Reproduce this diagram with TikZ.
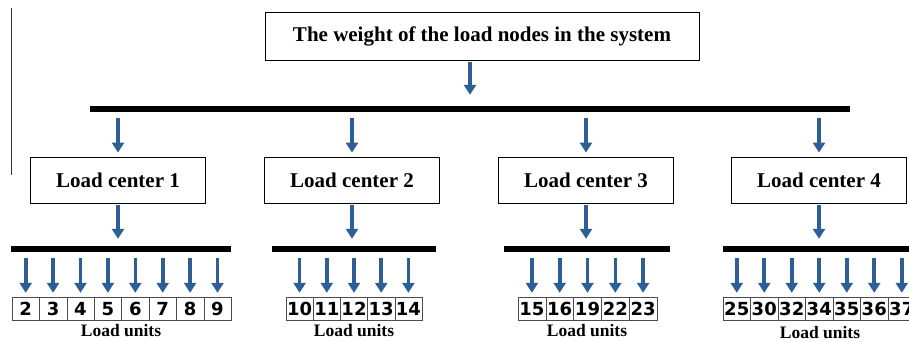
\documentclass[tikz,border=0pt]{standalone}
\usepackage{fontspec}
\setmainfont{Liberation Serif}
\newfontfamily\numfont{DejaVu Sans}
\usetikzlibrary{arrows.meta}
\definecolor{arrowBlue}{HTML}{2E5E96}

\begin{document}
\begin{tikzpicture}[x=1pt, y=-1pt,
    titlebox/.style={draw, thick, minimum width=434pt, minimum height=48pt,
        font=\bfseries\fontsize{21}{23}\selectfont},
    centerbox/.style={draw, thick, minimum width=175pt, minimum height=46pt,
        font=\bfseries\fontsize{21}{23}\selectfont},
    bus/.style={fill=black, inner sep=0pt, minimum height=6pt},
    unitbox/.style={draw=black!70, inner sep=0pt, minimum width=27.4pt,
        text height=18pt, text depth=5pt,
        font=\numfont\bfseries\fontsize{18}{18}\selectfont},
    unitlabel/.style={font=\bfseries\fontsize{17.5}{19}\selectfont},
    flow/.style={arrowBlue, line width=3.6pt, -{Triangle[width=12pt,length=10pt]}},
    ]
    \useasboundingbox (0,0) rectangle (909,342);
    \draw[black!80] (11,8) -- (11,175);

    % top level
    \node[titlebox] (title) at (482,36) {The weight of the load nodes in the system};
    \node[bus, minimum width=760pt] (bus) at (470,109) {};
    \draw[flow, shorten <=2pt, shorten >=11pt] (bus.north |- title.south) -- (bus.north);

    % load centers
    \node[centerbox] (lc1) at (118,180) {Load center 1};
    \node[centerbox] (lc2) at (352,180) {Load center 2};
    \node[centerbox] (lc3) at (586,180) {Load center 3};
    \node[centerbox] (lc4) at (819,180) {Load center 4};

    \node[bus, minimum width=220pt] (bus1) at (121,249) {};
    \node[bus, minimum width=164pt] (bus2) at (354,249) {};
    \node[bus, minimum width=166pt] (bus3) at (587,249) {};
    \node[bus, minimum width=190pt] (bus4) at (818,249) {};

    \foreach \k in {1,...,4} {
        \draw[flow, shorten <=6pt, shorten >=4pt] (lc\k.north |- bus.south) -- (lc\k.north);
        \draw[flow, shorten <=2pt, shorten >=7pt] (lc\k.south) -- (lc\k.south |- bus\k.north);
    }

    % load units
    \foreach \n [count=\i] in {2,3,4,5,6,7,8,9}
        \node[unitbox] (u\n) at ({12+27.4*(\i-0.5)},308.5) {\n};
    \foreach \n [count=\i] in {10,11,12,13,14}
        \node[unitbox, minimum width=27.2pt] (u\n) at ({286+27.2*(\i-0.5)},308.5) {\n};
    \foreach \n [count=\i] in {15,16,19,22,23}
        \node[unitbox, minimum width=27.8pt] (u\n) at ({518+27.8*(\i-0.5)},308.5) {\n};
    \foreach \n [count=\i] in {25,30,32,34,35,36,37}
        \node[unitbox, minimum width=27.5pt] (u\n) at ({723+27.5*(\i-0.5)},308.5) {\n};

    \foreach \n in {2,3,4,5,6,7,8,9}
        \draw[flow, shorten <=6pt, shorten >=4pt] (u\n.north |- bus1.south) -- (u\n.north);
    \foreach \n in {10,11,12,13,14}
        \draw[flow, shorten <=6pt, shorten >=4pt] (u\n.north |- bus2.south) -- (u\n.north);
    \foreach \n in {15,16,19,22,23}
        \draw[flow, shorten <=6pt, shorten >=4pt] (u\n.north |- bus3.south) -- (u\n.north);
    \foreach \n in {25,30,32,34,35,36,37}
        \draw[flow, shorten <=6pt, shorten >=4pt] (u\n.north |- bus4.south) -- (u\n.north);

    \node[unitlabel] (lu1) at (121,331) {Load units};
    \node[unitlabel] (lu2) at (354,331) {Load units};
    \node[unitlabel] (lu3) at (587,331) {Load units};
    \node[unitlabel] (lu4) at (820,333) {Load units};
\end{tikzpicture}
\end{document}
